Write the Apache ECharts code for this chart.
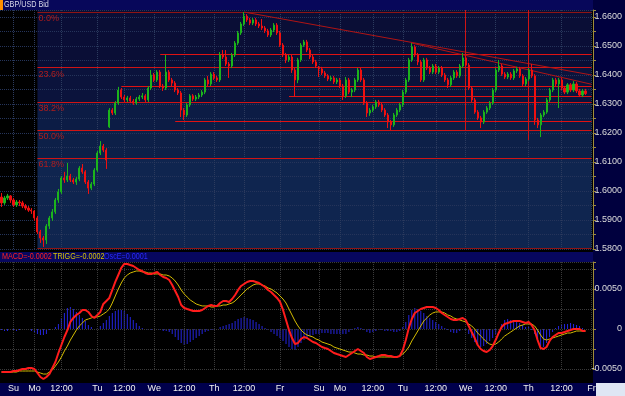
<!DOCTYPE html>
<html>
<head>
<meta charset="utf-8">
<script src="https://cdn.jsdelivr.net/npm/echarts@6/dist/echarts.min.js"></script>
<style>
html, body { margin: 0; padding: 0; background: #000; }
#main { width: 625px; height: 396px; }
</style>
</head>
<body>
<div id="main"></div>
<script>
// hourly GBP/USD bid candles
var opens = [
  1.5979,1.5959,1.5976,1.5983,1.5969,1.5952,1.5962,1.5959,1.5948,1.5941,
  1.5934,1.5931,1.5907,1.5859,1.5838,1.5831,1.5879,1.5907,1.5928,1.5969,
  1.5997,1.6045,1.6038,1.6052,1.6038,1.6031,1.6041,1.6079,1.6066,1.6031,
  1.6010,1.6024,1.6072,1.6131,1.6155,1.6141,1.6221,1.6279,1.6269,1.6303,
  1.6348,1.6324,1.6314,1.6321,1.6310,1.6303,1.6317,1.6324,1.6328,1.6314,
  1.6355,1.6400,1.6383,1.6410,1.6362,1.6355,1.6410,1.6383,1.6372,1.6348,
  1.6338,1.6279,1.6262,1.6297,1.6328,1.6317,1.6324,1.6331,1.6341,1.6383,
  1.6369,1.6403,1.6390,1.6383,1.6469,1.6462,1.6438,1.6431,1.6469,1.6510,
  1.6545,1.6576,1.6603,1.6590,1.6579,1.6590,1.6576,1.6569,1.6562,1.6552,
  1.6538,1.6555,1.6572,1.6545,1.6503,1.6469,1.6452,1.6462,1.6417,1.6383,
  1.6452,1.6503,1.6514,1.6486,1.6462,1.6445,1.6424,1.6421,1.6407,1.6397,
  1.6386,1.6390,1.6376,1.6383,1.6362,1.6328,1.6383,1.6341,1.6348,1.6383,
  1.6417,1.6383,1.6303,1.6269,1.6279,1.6290,1.6307,1.6297,1.6279,1.6262,
  1.6238,1.6228,1.6262,1.6279,1.6297,1.6341,1.6383,1.6452,1.6497,1.6469,
  1.6445,1.6383,1.6452,1.6424,1.6410,1.6431,1.6410,1.6424,1.6400,1.6383,
  1.6366,1.6390,1.6410,1.6397,1.6431,1.6459,1.6434,1.6355,1.6314,1.6272,
  1.6252,1.6238,1.6272,1.6286,1.6303,1.6348,1.6417,1.6431,1.6403,1.6393,
  1.6403,1.6390,1.6414,1.6421,1.6397,1.6369,1.6386,1.6417,1.6397,1.6245,
  1.6228,1.6262,1.6272,1.6314,1.6348,1.6383,1.6369,1.6383,1.6355,1.6341,
  1.6366,1.6348,1.6369,1.6345,1.6331,1.6345
];
var closes = [
  1.5959,1.5976,1.5983,1.5969,1.5952,1.5962,1.5959,1.5948,1.5941,1.5934,
  1.5931,1.5907,1.5859,1.5838,1.5831,1.5879,1.5907,1.5928,1.5969,1.5997,
  1.6045,1.6038,1.6052,1.6038,1.6031,1.6041,1.6079,1.6066,1.6031,1.6010,
  1.6024,1.6072,1.6131,1.6155,1.6141,1.6107,1.6279,1.6269,1.6303,1.6348,
  1.6324,1.6314,1.6321,1.6310,1.6303,1.6317,1.6324,1.6328,1.6314,1.6355,
  1.6400,1.6383,1.6410,1.6362,1.6355,1.6410,1.6383,1.6372,1.6348,1.6338,
  1.6279,1.6262,1.6297,1.6328,1.6317,1.6324,1.6331,1.6341,1.6383,1.6369,
  1.6403,1.6390,1.6383,1.6469,1.6462,1.6438,1.6431,1.6469,1.6510,1.6545,
  1.6576,1.6603,1.6590,1.6579,1.6590,1.6576,1.6569,1.6562,1.6552,1.6538,
  1.6555,1.6572,1.6545,1.6503,1.6469,1.6452,1.6462,1.6417,1.6383,1.6452,
  1.6503,1.6514,1.6486,1.6462,1.6445,1.6431,1.6421,1.6407,1.6397,1.6386,
  1.6390,1.6376,1.6383,1.6362,1.6328,1.6383,1.6341,1.6348,1.6383,1.6417,
  1.6383,1.6303,1.6269,1.6279,1.6290,1.6307,1.6297,1.6279,1.6262,1.6238,
  1.6228,1.6262,1.6279,1.6297,1.6341,1.6383,1.6452,1.6497,1.6469,1.6445,
  1.6383,1.6452,1.6424,1.6410,1.6431,1.6410,1.6424,1.6400,1.6383,1.6366,
  1.6390,1.6410,1.6397,1.6431,1.6459,1.6434,1.6355,1.6314,1.6272,1.6252,
  1.6238,1.6272,1.6286,1.6303,1.6348,1.6417,1.6431,1.6403,1.6393,1.6403,
  1.6390,1.6414,1.6421,1.6397,1.6369,1.6386,1.6417,1.6397,1.6245,1.6228,
  1.6262,1.6272,1.6314,1.6348,1.6383,1.6369,1.6383,1.6355,1.6341,1.6366,
  1.6348,1.6369,1.6345,1.6331,1.6345,1.6336
];
var lows = [
  1.5945,1.5952,1.5969,1.5959,1.5945,1.5945,1.5948,1.5941,1.5934,1.5928,
  1.5921,1.5897,1.5852,1.5821,1.5807,1.5817,1.5869,1.5897,1.5921,1.5959,
  1.5990,1.6028,1.6031,1.6031,1.6024,1.6021,1.6034,1.6059,1.6024,1.5990,
  1.6003,1.6017,1.6066,1.6124,1.6134,1.6076,1.6217,1.6262,1.6262,1.6297,
  1.6317,1.6307,1.6307,1.6303,1.6297,1.6297,1.6310,1.6317,1.6307,1.6307,
  1.6348,1.6376,1.6376,1.6355,1.6345,1.6348,1.6376,1.6362,1.6341,1.6331,
  1.6255,1.6245,1.6255,1.6290,1.6310,1.6310,1.6317,1.6324,1.6334,1.6362,
  1.6362,1.6383,1.6376,1.6376,1.6455,1.6431,1.6390,1.6424,1.6462,1.6503,
  1.6538,1.6569,1.6583,1.6572,1.6572,1.6569,1.6562,1.6555,1.6545,1.6531,
  1.6531,1.6548,1.6538,1.6497,1.6462,1.6441,1.6445,1.6407,1.6324,1.6372,
  1.6445,1.6497,1.6479,1.6455,1.6438,1.6424,1.6393,1.6400,1.6390,1.6379,
  1.6379,1.6369,1.6369,1.6355,1.6314,1.6321,1.6334,1.6324,1.6341,1.6376,
  1.6376,1.6297,1.6255,1.6259,1.6272,1.6283,1.6290,1.6272,1.6255,1.6217,
  1.6210,1.6221,1.6255,1.6272,1.6290,1.6334,1.6376,1.6445,1.6462,1.6434,
  1.6376,1.6376,1.6417,1.6403,1.6403,1.6403,1.6403,1.6393,1.6376,1.6355,
  1.6359,1.6383,1.6390,1.6390,1.6424,1.6428,1.6348,1.6307,1.6266,1.6245,
  1.6217,1.6231,1.6266,1.6279,1.6297,1.6341,1.6410,1.6397,1.6386,1.6386,
  1.6383,1.6383,1.6407,1.6390,1.6362,1.6362,1.6379,1.6390,1.6228,1.6217,
  1.6186,1.6255,1.6266,1.6307,1.6341,1.6362,1.6286,1.6348,1.6334,1.6334,
  1.6341,1.6341,1.6338,1.6324,1.6324,1.6331
];
var highs = [
  1.5993,1.5983,1.5990,1.5986,1.5976,1.5969,1.5969,1.5966,1.5955,1.5948,
  1.5941,1.5934,1.5914,1.5866,1.5845,1.5886,1.5914,1.5938,1.5976,1.6007,
  1.6052,1.6066,1.6097,1.6059,1.6045,1.6048,1.6086,1.6093,1.6072,1.6038,
  1.6031,1.6079,1.6138,1.6172,1.6162,1.6148,1.6286,1.6286,1.6310,1.6359,
  1.6355,1.6331,1.6328,1.6328,1.6317,1.6324,1.6331,1.6338,1.6334,1.6362,
  1.6417,1.6407,1.6417,1.6417,1.6369,1.6469,1.6417,1.6390,1.6379,1.6355,
  1.6345,1.6286,1.6303,1.6334,1.6334,1.6331,1.6338,1.6348,1.6390,1.6397,
  1.6410,1.6410,1.6397,1.6479,1.6486,1.6486,1.6445,1.6476,1.6517,1.6552,
  1.6583,1.6617,1.6610,1.6597,1.6597,1.6597,1.6583,1.6593,1.6569,1.6559,
  1.6562,1.6579,1.6579,1.6552,1.6510,1.6476,1.6469,1.6469,1.6424,1.6459,
  1.6510,1.6521,1.6521,1.6493,1.6469,1.6452,1.6431,1.6428,1.6414,1.6403,
  1.6397,1.6397,1.6390,1.6390,1.6369,1.6393,1.6390,1.6355,1.6390,1.6424,
  1.6424,1.6390,1.6310,1.6286,1.6297,1.6314,1.6314,1.6303,1.6286,1.6269,
  1.6245,1.6269,1.6286,1.6303,1.6348,1.6390,1.6459,1.6510,1.6503,1.6476,
  1.6452,1.6459,1.6459,1.6431,1.6438,1.6438,1.6431,1.6431,1.6407,1.6390,
  1.6397,1.6417,1.6417,1.6438,1.6476,1.6466,1.6441,1.6362,1.6321,1.6279,
  1.6259,1.6279,1.6293,1.6310,1.6355,1.6424,1.6452,1.6438,1.6410,1.6410,
  1.6410,1.6421,1.6428,1.6428,1.6403,1.6393,1.6424,1.6438,1.6403,1.6252,
  1.6269,1.6279,1.6321,1.6355,1.6390,1.6390,1.6390,1.6390,1.6362,1.6372,
  1.6372,1.6379,1.6376,1.6352,1.6352,1.6352
];

// MACD panel
var macd = [
  -0.00538,-0.00538,-0.00538,-0.00538,-0.00525,-0.00525,-0.00513,-0.00500,-0.00500,-0.00488,
  -0.00488,-0.00500,-0.00550,-0.00600,-0.00625,-0.00600,-0.00563,-0.00488,-0.00413,-0.00300,
  -0.00200,-0.00100,-0.00013,0.00088,0.00138,0.00175,0.00200,0.00238,0.00238,0.00213,
  0.00163,0.00138,0.00175,0.00213,0.00313,0.00350,0.00388,0.00488,0.00588,0.00675,
  0.00763,0.00813,0.00813,0.00800,0.00788,0.00763,0.00738,0.00725,0.00700,0.00688,
  0.00688,0.00700,0.00713,0.00675,0.00650,0.00638,0.00613,0.00550,0.00475,0.00400,
  0.00300,0.00263,0.00250,0.00238,0.00225,0.00225,0.00225,0.00238,0.00263,0.00288,
  0.00300,0.00288,0.00288,0.00325,0.00350,0.00350,0.00338,0.00375,0.00425,0.00488,
  0.00538,0.00563,0.00588,0.00600,0.00600,0.00588,0.00575,0.00550,0.00525,0.00488,
  0.00463,0.00425,0.00388,0.00338,0.00238,0.00113,-0.00013,-0.00113,-0.00188,-0.00175,
  -0.00125,-0.00100,-0.00113,-0.00138,-0.00163,-0.00175,-0.00200,-0.00225,-0.00238,-0.00250,
  -0.00275,-0.00300,-0.00313,-0.00325,-0.00338,-0.00350,-0.00325,-0.00300,-0.00275,-0.00250,
  -0.00275,-0.00300,-0.00350,-0.00375,-0.00363,-0.00350,-0.00338,-0.00325,-0.00325,-0.00338,
  -0.00338,-0.00350,-0.00350,-0.00338,-0.00263,-0.00138,0.00013,0.00125,0.00200,0.00225,
  0.00250,0.00263,0.00275,0.00275,0.00275,0.00263,0.00238,0.00200,0.00175,0.00150,
  0.00125,0.00113,0.00113,0.00125,0.00138,0.00113,0.00038,-0.00038,-0.00113,-0.00200,
  -0.00250,-0.00275,-0.00288,-0.00263,-0.00213,-0.00138,-0.00050,0.00025,0.00063,0.00075,
  0.00088,0.00100,0.00100,0.00100,0.00088,0.00075,0.00088,0.00050,-0.00013,-0.00138,
  -0.00238,-0.00250,-0.00225,-0.00150,-0.00100,-0.00075,-0.00050,-0.00050,-0.00038,-0.00025,
  -0.00013,0,0,0,-0.00025,-0.00025
];
var trigg = [
  -0.00538,-0.00538,-0.00538,-0.00538,-0.00538,-0.00538,-0.00525,-0.00525,-0.00525,-0.00525,
  -0.00525,-0.00525,-0.00538,-0.00550,-0.00563,-0.00563,-0.00538,-0.00513,-0.00463,-0.00413,
  -0.00350,-0.00275,-0.00213,-0.00138,-0.00075,-0.00013,0.00038,0.00075,0.00113,0.00125,
  0.00138,0.00150,0.00150,0.00163,0.00188,0.00213,0.00250,0.00325,0.00413,0.00500,
  0.00575,0.00638,0.00675,0.00700,0.00713,0.00725,0.00725,0.00713,0.00713,0.00700,
  0.00700,0.00688,0.00688,0.00688,0.00675,0.00675,0.00663,0.00638,0.00600,0.00550,
  0.00488,0.00438,0.00400,0.00363,0.00338,0.00313,0.00300,0.00288,0.00288,0.00288,
  0.00275,0.00275,0.00288,0.00288,0.00300,0.00300,0.00313,0.00325,0.00350,0.00388,
  0.00425,0.00463,0.00500,0.00525,0.00550,0.00563,0.00563,0.00550,0.00538,0.00513,
  0.00500,0.00475,0.00450,0.00413,0.00375,0.00325,0.00250,0.00175,0.00100,0.00038,
  -0.00013,-0.00050,-0.00075,-0.00088,-0.00100,-0.00125,-0.00138,-0.00163,-0.00175,-0.00188,
  -0.00200,-0.00225,-0.00238,-0.00250,-0.00263,-0.00275,-0.00288,-0.00288,-0.00300,-0.00313,
  -0.00313,-0.00325,-0.00325,-0.00338,-0.00338,-0.00350,-0.00350,-0.00350,-0.00350,-0.00350,
  -0.00350,-0.00350,-0.00350,-0.00338,-0.00313,-0.00275,-0.00225,-0.00150,-0.00088,-0.00025,
  0.00038,0.00100,0.00138,0.00175,0.00200,0.00213,0.00213,0.00213,0.00200,0.00175,
  0.00163,0.00138,0.00125,0.00113,0.00100,0.00088,0.00063,0.00038,0,-0.00050,
  -0.00088,-0.00125,-0.00163,-0.00188,-0.00200,-0.00188,-0.00163,-0.00125,-0.00088,-0.00063,
  -0.00038,-0.00013,0.00013,0.00038,0.00050,0.00063,0.00063,0.00063,0.00038,-0.00013,
  -0.00075,-0.00125,-0.00138,-0.00125,-0.00113,-0.00100,-0.00088,-0.00075,-0.00063,-0.00050,
  -0.00050,-0.00038,-0.00025,-0.00025,-0.00025,-0.00025
];
var osc = [
  -0.00013,-0.00025,-0.00025,-0.00013,-0.00025,-0.00025,-0.00013,-0.00013,0,-0.00013,
  -0.00025,-0.00038,-0.00063,-0.00075,-0.00075,-0.00063,-0.00013,0,0.00025,0.00063,
  0.00138,0.00200,0.00263,0.00275,0.00250,0.00213,0.00175,0.00138,0.00100,0.00050,
  0.00025,0,0.00013,0.00038,0.00075,0.00113,0.00163,0.00200,0.00225,0.00238,
  0.00238,0.00225,0.00188,0.00150,0.00113,0.00075,0.00038,0.00013,0,-0.00013,
  -0.00013,0,0,-0.00013,-0.00025,-0.00025,-0.00038,-0.00063,-0.00100,-0.00138,
  -0.00175,-0.00200,-0.00188,-0.00163,-0.00138,-0.00113,-0.00088,-0.00063,-0.00038,-0.00025,
  -0.00013,-0.00013,0,0.00025,0.00038,0.00050,0.00063,0.00075,0.00100,0.00125,
  0.00138,0.00150,0.00138,0.00125,0.00113,0.00088,0.00063,0.00038,0.00013,-0.00013,
  -0.00038,-0.00063,-0.00088,-0.00113,-0.00150,-0.00188,-0.00225,-0.00250,-0.00263,-0.00225,
  -0.00175,-0.00138,-0.00113,-0.00088,-0.00075,-0.00063,-0.00063,-0.00050,-0.00050,-0.00050,
  -0.00063,-0.00063,-0.00063,-0.00063,-0.00063,-0.00063,-0.00038,-0.00013,0.00013,0.00025,
  0.00013,-0.00013,-0.00038,-0.00050,-0.00038,-0.00025,-0.00013,-0.00013,-0.00025,-0.00025,
  -0.00025,-0.00038,-0.00038,-0.00025,0.00025,0.00088,0.00175,0.00238,0.00263,0.00250,
  0.00225,0.00200,0.00163,0.00138,0.00113,0.00088,0.00063,0.00038,0.00013,-0.00013,
  -0.00038,-0.00050,-0.00050,-0.00025,0,-0.00013,-0.00063,-0.00113,-0.00163,-0.00200,
  -0.00225,-0.00213,-0.00188,-0.00150,-0.00113,-0.00063,0,0.00063,0.00113,0.00125,
  0.00113,0.00100,0.00088,0.00075,0.00050,0.00025,0.00025,-0.00013,-0.00063,-0.00125,
  -0.00213,-0.00225,-0.00175,-0.00100,-0.00038,0.00013,0.00038,0.00050,0.00063,0.00063,
  0.00075,0.00063,0.00050,0.00038,0.00013,0
];

// time axis labels and the bar index they sit on
var tickNames = ['Su','Mo','12:00','Tu','12:00','We','12:00','Th','12:00','Fr',
                 'Su','Mo','12:00','Tu','12:00','We','12:00','Th','12:00','Fr'];
var tickIndex = [4, 11, 20, 32, 41, 51, 61, 71, 81, 93,
                 106, 113, 124, 134, 145, 155, 165, 176, 187, 197];

// drawn studies
var fibLevels = [1.6617, 1.6425, 1.6306, 1.6210, 1.6114, 1.5803];
var fibNames = ['0.0%', '23.6%', '38.2%', '50.0%', '61.8%', ''];
var srLevels = [1.6472, 1.6362, 1.6328, 1.6241];
var srStart = [53, 40, 96, 58];
var trendLines = [[81, 1.6617, 197, 1.6400], [137, 1.6510, 197, 1.6368]];
var vLines = [[155, 1.6210], [176, 1.6176]];

var lastPrice = 1.6336;
var macdNow = -0.0002, triggNow = -0.0002, oscNow = 0.0001;

var FONT = '"Liberation Sans", sans-serif';
var nCat = 198;
var fibStart = 12;
var priceMin = 1.58, priceMax = 1.66241;
var macdMin = -0.005, macdMax = 0.008375;

var categories = [];
var labelAt = {};
for (var i = 0; i < nCat; i++) categories.push(String(i));
tickIndex.forEach(function (k, j) { labelAt[k] = tickNames[j]; });
function isTick(idx) { return labelAt[idx] !== undefined; }

var candles = opens.map(function (o, i) { return [o, closes[i], lows[i], highs[i]]; });

// shaded fib zones
var zoneEdges = [priceMax].concat(fibLevels).concat([priceMin]);
var zoneColors = ['#0a0d34', '#0a0e36', '#0b133c', '#0c1c45', '#0d2048', '#0f254f', '#0f254f'];
var zones = [];
for (var z = 0; z < zoneColors.length; z++) {
  zones.push([
    { coord: [fibStart, zoneEdges[z]], itemStyle: { color: zoneColors[z] } },
    { coord: [nCat - 1, zoneEdges[z + 1]] }
  ]);
}

var lines = [];
var fibColors = ['#8e1414', '#d01414', '#d01414', '#d01414', '#d01414', '#8e1414'];
fibLevels.forEach(function (lv, k) {
  lines.push([
    { coord: [fibStart, lv], lineStyle: { color: fibColors[k] },
      label: { show: fibNames[k] !== '', formatter: fibNames[k], position: 'insideStartBottom',
               color: '#b01c1c', fontSize: 9, fontFamily: FONT, distance: [1, 2] } },
    { coord: [nCat - 1, lv] }
  ]);
});
srLevels.forEach(function (lv, k) {
  lines.push([{ coord: [srStart[k], lv], lineStyle: { color: '#e01212' } }, { coord: [nCat - 1, lv] }]);
});
trendLines.forEach(function (t) {
  lines.push([{ coord: [t[0], t[1]], lineStyle: { color: '#b01414' } }, { coord: [t[2], t[3]] }]);
});
vLines.forEach(function (v) {
  lines.push([{ coord: [v[0], priceMax], lineStyle: { color: '#d01414' } }, { coord: [v[0], v[1]] }]);
});

function priceLabel(v) {
  var r = Math.round(v * 100);
  return Math.abs(v * 100 - r) < 1e-6 ? v.toFixed(4) : '';
}
function macdLabel(v) {
  if (Math.abs(v) < 1e-9) return '0';
  var r = Math.round(v * 200);
  return Math.abs(v * 200 - r) < 1e-6 ? v.toFixed(4) : '';
}

// narrow header text, squeezed like the terminal's small font
function headText(x, y, txt, color) {
  return { type: 'text', z: -4, x: x, y: y, scaleX: 0.8,
           style: { text: txt, fill: color, fontSize: 9, fontFamily: FONT, verticalAlign: 'middle' } };
}

var myChart = echarts.init(document.getElementById('main'));

option = {
  backgroundColor: '#000',
  animation: false,
  grid: [
    { left: 0, right: 32, top: 10, height: 239, show: true, borderWidth: 0, backgroundColor: '#000' },
    { left: 0, right: 32, top: 262, height: 107, show: true, borderWidth: 0, backgroundColor: '#000' }
  ],
  xAxis: [
    {
      type: 'category', gridIndex: 0, data: categories, boundaryGap: true, z: 1.5,
      axisLine: { show: false }, axisTick: { show: false, alignWithLabel: true }, axisLabel: { show: false },
      splitLine: { show: true, interval: isTick, alignWithLabel: true,
                   lineStyle: { color: '#2c3b5e', type: 'dotted', width: 1 } }
    },
    {
      type: 'category', gridIndex: 1, data: categories, boundaryGap: true, z: 1.5,
      axisLine: { show: false }, axisTick: { show: false, alignWithLabel: true },
      axisLabel: { show: true, interval: isTick, margin: 15, color: '#f0f0f0', fontSize: 9, fontFamily: FONT,
                   formatter: function (v, idx) { return labelAt[idx] || ''; } },
      splitLine: { show: true, interval: isTick, alignWithLabel: true,
                   lineStyle: { color: '#3a3a3a', type: 'dotted', width: 1 } }
    }
  ],
  yAxis: [
    {
      type: 'value', gridIndex: 0, position: 'right', min: priceMin, max: priceMax, interval: 0.005, z: 1.5,
      axisLine: { show: true, lineStyle: { color: '#a08c3c' } },
      axisTick: { show: true, length: 3, lineStyle: { color: '#a08c3c' } },
      axisLabel: { formatter: priceLabel, color: '#dcdcdc', fontSize: 9, fontFamily: FONT, margin: 29, align: 'right' },
      splitLine: { show: true, lineStyle: { color: '#25345a', type: 'dotted', width: 1 } }
    },
    {
      type: 'value', gridIndex: 1, position: 'right', min: macdMin, max: macdMax, interval: 0.0025, z: 1.5,
      axisLine: { show: true, lineStyle: { color: '#a08c3c' } },
      axisTick: { show: true, length: 3, lineStyle: { color: '#a08c3c' } },
      axisLabel: { formatter: macdLabel, color: '#dcdcdc', fontSize: 9, fontFamily: FONT, margin: 29, align: 'right' },
      splitLine: { show: true, lineStyle: { color: '#3a3a3a', type: 'dotted', width: 1 } }
    }
  ],
  series: [
    {
      name: 'zones', type: 'line', xAxisIndex: 0, yAxisIndex: 0, data: [],
      markArea: { silent: true, z: 1, data: zones }
    },
    {
      name: 'studies', type: 'line', xAxisIndex: 0, yAxisIndex: 0, data: [],
      markLine: { silent: true, z: 1.8, symbol: ['none', 'none'], label: { show: false },
                  lineStyle: { width: 1, type: 'solid' }, data: lines }
    },
    {
      name: 'GBP/USD', type: 'candlestick', xAxisIndex: 0, yAxisIndex: 0, z: 3,
      data: candles, barWidth: 1.6,
      itemStyle: { color: '#1cb41c', color0: '#f01010', borderColor: '#1cb41c', borderColor0: '#f01010', borderWidth: 1 }
    },
    {
      name: 'last', type: 'line', xAxisIndex: 0, yAxisIndex: 0, data: [],
      markLine: {
        silent: true, z: 10, symbol: ['none', 'none'],
        data: [{ yAxis: lastPrice, lineStyle: { opacity: 0 },
                 label: { show: true, position: 'end', distance: 4, formatter: lastPrice.toFixed(4),
                          backgroundColor: '#ffff78', color: '#000060', padding: [1, 2], fontSize: 9, fontFamily: FONT } }]
      }
    },
    {
      name: 'OscE', type: 'bar', xAxisIndex: 1, yAxisIndex: 1, data: osc, barWidth: 1, z: 1,
      itemStyle: { color: '#2424e0' }
    },
    {
      name: 'TRIGG', type: 'line', xAxisIndex: 1, yAxisIndex: 1, data: trigg, showSymbol: false, clip: false, z: 2,
      lineStyle: { color: '#d4bc00', width: 1 }
    },
    {
      name: 'MACD', type: 'line', xAxisIndex: 1, yAxisIndex: 1, data: macd, showSymbol: false, clip: false, z: 3,
      lineStyle: { color: '#ff1c1c', width: 2 }
    }
  ],
  graphic: [
    { type: 'rect', z: -5, shape: { x: 593, y: 0, width: 32, height: 396 }, style: { fill: '#00003e' } },
    { type: 'rect', z: -5, shape: { x: 0, y: 0, width: 593, height: 10 }, style: { fill: '#07075a' } },
    { type: 'rect', z: -4, shape: { x: 0, y: 0, width: 3, height: 10 }, style: { fill: '#ff9000' } },
    headText(4, 5, 'GBP/USD Bid', '#d8d8e8'),
    { type: 'rect', z: -5, shape: { x: 0, y: 252, width: 593, height: 10 }, style: { fill: '#07075e' } },
    headText(2, 257, 'MACD=' + macdNow.toFixed(4), '#ff2020'),
    headText(53, 257, 'TRIGG=' + triggNow.toFixed(4), '#d8c800'),
    headText(104, 257, 'OscE=' + oscNow.toFixed(4), '#2a2aff'),
    { type: 'rect', z: -5, shape: { x: 0, y: 383, width: 596, height: 13 }, style: { fill: '#00004c' } },
    { type: 'rect', z: -4, shape: { x: 596, y: 383, width: 29, height: 13 }, style: { fill: '#dfe6f4' } }
  ]
};

myChart.setOption(option);
</script>
</body>
</html>
